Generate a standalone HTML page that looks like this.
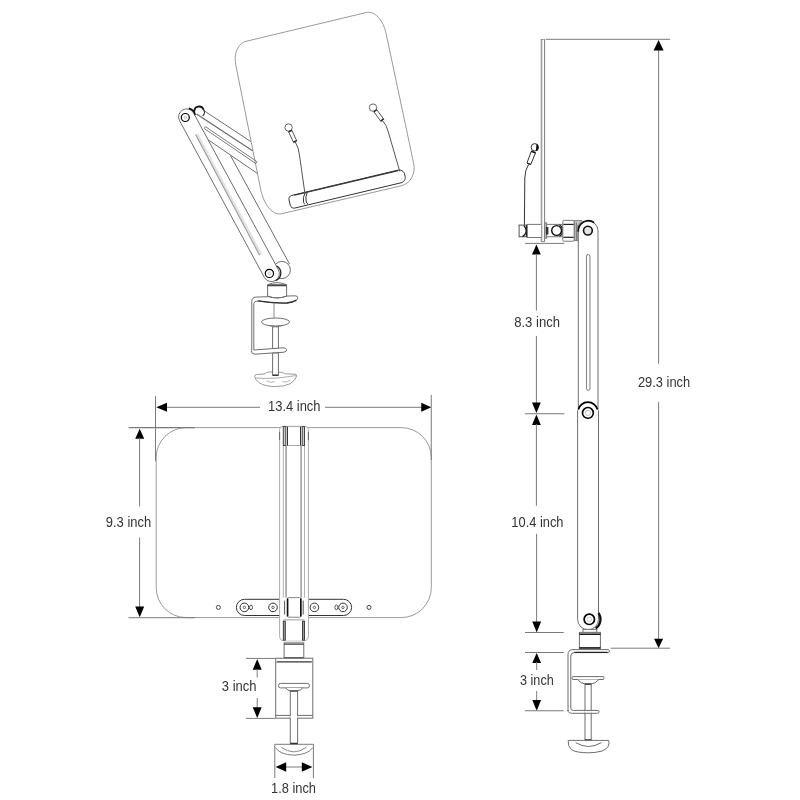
<!DOCTYPE html>
<html><head><meta charset="utf-8"><style>
html,body{margin:0;padding:0;background:#fff;width:800px;height:800px;overflow:hidden}
svg{display:block;font-family:"Liberation Sans",sans-serif;will-change:transform}
</style></head><body>
<svg width="800" height="800" viewBox="0 0 800 800">
<rect width="800" height="800" fill="#fff"/>
<path d="M246.34 41.24 L366.31 12.50 C374.48 10.54 383.21 19.89 386.15 33.75 L413.66 163.41 C415.87 173.82 410.32 183.70 401.04 185.86 L281.34 213.78 C272.89 215.75 263.75 204.79 260.56 188.86 L235.67 64.35 C233.48 53.37 238.17 43.20 246.34 41.24 Z" fill="#fff" stroke="#9a9a9a" stroke-width="1"/>
<path d="M294.67 208.08 L401.09 182.79 C403.98 182.10 405.78 179.17 405.09 176.28 L404.58 174.14 C403.90 171.25 400.97 169.45 398.08 170.14 L291.66 195.43 C289.74 195.89 288.53 197.84 288.99 199.77 L290.33 205.41 C290.79 207.34 292.74 208.54 294.67 208.08 Z" fill="#fff" stroke="#333" stroke-width="1"/>
<line x1="294.40" y1="195.20" x2="398.00" y2="170.60" stroke="#333" stroke-width="1.10"/>
<path d="M305 193.2 Q302.4 197.6 303.6 202.6 Q304.2 203.8 305.2 204.4" fill="none" stroke="#333" stroke-width="1"/>
<path d="M307.2 192.6 Q305 197.2 306.2 202 Q306.8 203.2 308 204" fill="none" stroke="#333" stroke-width="1"/>
<path d="M295.2 141.8 Q299 148 299.6 156 L305 194" fill="none" stroke="#555" stroke-width="1"/>
<circle cx="288.60" cy="127.50" r="3.7" fill="#fff" stroke="#666" stroke-width="1"/>
<polygon points="288.60,131.80 293.57,142.55 296.83,141.05 291.87,130.29" fill="#fff" stroke="#555" stroke-width="1"/>
<line x1="288.60" y1="131.80" x2="291.87" y2="130.29" stroke="#222" stroke-width="1.3"/>
<line x1="293.31" y1="142.01" x2="296.58" y2="140.50" stroke="#222" stroke-width="1.3"/>
<path d="M382.4 120.4 Q386.6 125 388 131 L399.8 171.5" fill="none" stroke="#555" stroke-width="1"/>
<circle cx="373.00" cy="107.60" r="3.7" fill="#fff" stroke="#666" stroke-width="1"/>
<polygon points="373.86,111.81 380.95,121.47 383.85,119.33 376.76,109.68" fill="#fff" stroke="#555" stroke-width="1"/>
<line x1="373.86" y1="111.81" x2="376.76" y2="109.68" stroke="#222" stroke-width="1.3"/>
<line x1="380.59" y1="120.98" x2="383.50" y2="118.85" stroke="#222" stroke-width="1.3"/>
<line x1="203.00" y1="110.00" x2="250.80" y2="141.60" stroke="#6e6e6e" stroke-width="1.00"/>
<line x1="196.50" y1="114.00" x2="252.60" y2="150.80" stroke="#6e6e6e" stroke-width="1.30"/>
<path d="M204.88 128.91 L255.18 163.11 A1.10 1.10 0 0 0 256.42 161.29 L206.12 127.09 A1.10 1.10 0 0 0 204.88 128.91 Z" fill="none" stroke="#6e6e6e" stroke-width="0.9"/>
<line x1="208.50" y1="140.00" x2="257.60" y2="173.60" stroke="#6e6e6e" stroke-width="1.00"/>
<path d="M194.4 111.6 A4.7 4.7 0 0 1 203.4 109.4" fill="none" stroke="#111" stroke-width="1.8"/>
<path d="M203.2 109 A4.7 4.7 0 0 1 202.6 116" fill="none" stroke="#333" stroke-width="1.1"/>
<line x1="230.50" y1="155.50" x2="289.50" y2="264.00" stroke="#6e6e6e" stroke-width="1.00"/>
<circle cx="281.8" cy="270" r="8.6" fill="#fff" stroke="#6e6e6e" stroke-width="1"/>
<path d="M179.56 120.71 L264.36 277.41 A8.00 8.00 0 0 0 278.44 269.79 L193.64 113.09 A8.00 8.00 0 0 0 179.56 120.71 Z" fill="#fff" stroke="#6e6e6e" stroke-width="1"/>
<line x1="197.00" y1="134.00" x2="261.00" y2="254.60" stroke="#e2e2e2" stroke-width="2.60"/>
<line x1="195.60" y1="134.60" x2="259.60" y2="255.20" stroke="#999" stroke-width="1.10"/>
<path d="M188.8 108.4 A8.6 8.6 0 0 1 195.2 115" fill="none" stroke="#111" stroke-width="1.6"/>
<circle cx="185.3" cy="117.5" r="4" fill="none" stroke="#000" stroke-width="1.2"/>
<circle cx="185.3" cy="117.5" r="1.2" fill="none" stroke="#999" stroke-width="0.6"/>
<circle cx="269.4" cy="273.4" r="4.1" fill="none" stroke="#000" stroke-width="1.2"/>
<circle cx="269.4" cy="273.4" r="1.5" fill="none" stroke="#aaa" stroke-width="0.6"/>
<path d="M276.6 266 A8 8 0 0 1 275.5 280.6" fill="none" stroke="#222" stroke-width="1.3"/>
<path d="M268 284.6 Q277 280.6 286.3 284.6" fill="#fff" stroke="#6e6e6e" stroke-width="1"/>
<path d="M251.75 352 L251.75 301.6 Q251.75 297.4 256 297.1 L295 295.8 Q298 295.9 297.9 297.8 Q297.6 299.8 295.8 300.5 Q292 302.6 286.75 303.1 Q272 303.4 257.9 301 Q254.2 301 253.8 303.4 L253.8 352" fill="#fff" stroke="#6e6e6e" stroke-width="1"/>
<path d="M257.9 300.9 Q272 303.3 286.75 303 Q292.6 302.5 296.4 300.1" fill="none" stroke="#333" stroke-width="1.3"/>
<path d="M267.6 284.6 L286.6 284.6 L286.6 296.2 Q277 299.6 267.6 296.2 Z" fill="#fff" stroke="#6e6e6e" stroke-width="1"/>
<line x1="267.60" y1="285.60" x2="286.60" y2="285.60" stroke="#444" stroke-width="1.30"/>
<path d="M267.6 296.2 Q277 299.6 286.6 296.2" fill="none" stroke="#6e6e6e" stroke-width="1"/>
<line x1="274.00" y1="302.60" x2="274.00" y2="318.00" stroke="#6e6e6e" stroke-width="0.80"/>
<ellipse cx="275.5" cy="322" rx="14" ry="4" fill="#fff" stroke="#6e6e6e" stroke-width="1"/>
<path d="M269 325.6 Q275.5 328 282 325.6" fill="none" stroke="#6e6e6e" stroke-width="0.9"/>
<rect x="272.6" y="326.8" width="5.8" height="49" fill="#fff" stroke="#6e6e6e" stroke-width="1"/>
<line x1="272.60" y1="348.80" x2="278.40" y2="348.80" stroke="#000" stroke-width="1.30"/>
<path d="M251.4 351 Q251.4 354.2 255 354.2 L284 352.2 Q287 351.6 286.6 349.6 Q286 347.8 283 347.8 L254 350" fill="#fff" stroke="#6e6e6e" stroke-width="1"/>
<line x1="272.60" y1="353.00" x2="278.40" y2="353.00" stroke="#6e6e6e" stroke-width="0.80"/>
<path d="M254.6 376.2 Q254.8 374.8 256.4 374.6 L265.4 373.8 Q266.6 372 268.4 372 L282.6 372.4 Q284.2 373.6 285.6 373.8 L295.2 374.2 Q296.8 374.6 296.6 376 Q296 380 290 383.8 Q284 386.6 275.4 386.6 Q265 386.4 259.6 383 Q254.4 379.4 254.6 376.2 Z" fill="#fff" stroke="#999" stroke-width="1"/>
<rect x="272.6" y="370" width="5.8" height="5.4" fill="#fff" stroke="none"/>
<line x1="272.60" y1="369.60" x2="272.60" y2="375.60" stroke="#6e6e6e" stroke-width="1.00"/>
<line x1="278.40" y1="369.60" x2="278.40" y2="375.60" stroke="#6e6e6e" stroke-width="1.00"/>
<line x1="272.60" y1="375.20" x2="278.40" y2="375.20" stroke="#222" stroke-width="1.40"/>
<path d="M255.2 377.8 Q262 378.8 269.5 378.3 Q277 378.4 285 377.1 Q291 376.2 296.2 375.6" fill="none" stroke="#aaa" stroke-width="1"/>
<path d="M266.4 380.8 Q270.6 383.4 274.6 381.6 M282.4 381.6 Q286 383.2 290.4 380.2" fill="none" stroke="#aaa" stroke-width="0.9"/>
<rect x="541.3" y="39.5" width="3.3" height="202" fill="#fff" stroke="#6e6e6e" stroke-width="1"/>
<line x1="546.00" y1="39.30" x2="670.00" y2="39.30" stroke="#7a7a7a" stroke-width="1.00"/>
<line x1="658.60" y1="50.00" x2="658.60" y2="363.80" stroke="#7a7a7a" stroke-width="1.00"/>
<line x1="658.60" y1="401.90" x2="658.60" y2="639.00" stroke="#7a7a7a" stroke-width="1.00"/>
<polygon points="658.60,40.00 653.60,50.50 663.60,50.50" fill="#000"/>
<polygon points="658.60,648.20 654.10,638.70 663.10,638.70" fill="#000"/>
<text x="637.90" y="387.25" font-size="14" fill="#333" textLength="52.35" lengthAdjust="spacingAndGlyphs">29.3 inch</text>
<line x1="610.70" y1="648.20" x2="670.00" y2="648.20" stroke="#7a7a7a" stroke-width="1.00"/>
<path d="M528.6 164.4 Q525 170 524.8 178 L524.4 225" fill="none" stroke="#333" stroke-width="1"/>
<polygon points="531.3,151.2 535.5,152.8 530.8,164.4 527,163" fill="#fff" stroke="#333" stroke-width="1"/>
<circle cx="534.8" cy="147.3" r="3.7" fill="#fff" stroke="#333" stroke-width="1"/>
<path d="M537 144.4 Q539.4 147.4 537 150.6 L536.4 150.6 Z" fill="#111" stroke="#111" stroke-width="1"/>
<line x1="531.20" y1="151.40" x2="535.60" y2="152.90" stroke="#111" stroke-width="1.50"/>
<line x1="527.20" y1="163.20" x2="530.80" y2="164.50" stroke="#222" stroke-width="1.20"/>
<rect x="527" y="224.4" width="14.6" height="13.1" fill="#fff" stroke="#777" stroke-width="1"/>
<rect x="519.1" y="225.1" width="7.9" height="11.65" fill="#fff" stroke="#555" stroke-width="1"/>
<path d="M523.8 225.6 Q527.2 229.6 526 232.4 Q525.2 235 522.6 236.6" fill="none" stroke="#111" stroke-width="1.3"/>
<line x1="526.40" y1="225.40" x2="526.40" y2="236.60" stroke="#222" stroke-width="1.20"/>
<rect x="541.9" y="39.6" width="2.6" height="202.3" fill="#fff" stroke="none"/>
<line x1="541.90" y1="39.60" x2="541.90" y2="241.90" stroke="#a8a8a8" stroke-width="1.00"/>
<line x1="544.50" y1="39.60" x2="544.50" y2="241.90" stroke="#888" stroke-width="1.00"/>
<line x1="541.90" y1="241.60" x2="544.50" y2="241.60" stroke="#888" stroke-width="1.00"/>
<rect x="546.6" y="224.4" width="16.4" height="12.35" fill="#fff" stroke="#777" stroke-width="1"/>
<rect x="545" y="222.9" width="1.6" height="15.35" fill="#fff" stroke="#777" stroke-width="1"/>
<rect x="545.8" y="227" width="2.6" height="7.5" fill="#333"/>
<circle cx="556.6" cy="230.5" r="4.9" fill="#fff" stroke="#111" stroke-width="1.4"/>
<path d="M559.4 224.8 A6.6 6.6 0 0 1 559.4 236.3" fill="none" stroke="#222" stroke-width="1.3"/>
<rect x="562.8" y="220.4" width="11.5" height="20.85" rx="1.4" fill="#fff" stroke="#777" stroke-width="1"/>
<line x1="563.40" y1="224.40" x2="573.80" y2="224.40" stroke="#222" stroke-width="1.20"/>
<line x1="563.40" y1="237.30" x2="573.80" y2="237.30" stroke="#222" stroke-width="1.20"/>
<path d="M574.3 220.6 L582 220.6 L578 224.8 L578 240.6 L574.3 240.6 Z" fill="#ccc" stroke="#666" stroke-width="0.8"/>
<line x1="576.30" y1="222.40" x2="576.30" y2="240.40" stroke="#555" stroke-width="0.80"/>
<path d="M578.3 409 L578.3 230.8 A9.85 9.85 0 0 1 598 230.8 L598 409" fill="#fff" stroke="#6e6e6e" stroke-width="1"/>
<path d="M577.6 410.4 L577.6 619.3 A10.45 10.45 0 0 0 598.5 619.3 L598.5 410.4" fill="#fff" stroke="#6e6e6e" stroke-width="1"/>
<path d="M586.55 256.20 L586.55 388.60 A1.70 1.70 0 0 0 589.95 388.60 L589.95 256.20 A1.70 1.70 0 0 0 586.55 256.20 Z" fill="#fff" stroke="#6e6e6e" stroke-width="0.9"/>
<circle cx="587.9" cy="230.6" r="4.4" fill="#e4e4e4" stroke="#111" stroke-width="1.6"/>
<path d="M578.3 231.6 A10.1 10.1 0 0 1 594.2 222.6" fill="none" stroke="#111" stroke-width="1.7"/>
<path d="M578.3 409.6 A9.9 9.9 0 0 1 597.5 409.6" fill="none" stroke="#000" stroke-width="1.7"/>
<circle cx="587.9" cy="412.9" r="5.4" fill="#fff" stroke="#000" stroke-width="1.6"/>
<circle cx="588" cy="412.9" r="2.6" fill="none" stroke="#bbb" stroke-width="0.8"/>
<path d="M598.5 612.9 A11.2 11.2 0 0 1 595.7 628.5" fill="none" stroke="#111" stroke-width="2.2"/>
<circle cx="589.3" cy="619.3" r="5.2" fill="#fff" stroke="#000" stroke-width="1.7"/>
<circle cx="589.3" cy="619.3" r="2.2" fill="none" stroke="#bbb" stroke-width="0.8"/>
<rect x="583" y="629.4" width="13.8" height="3" fill="#fff" stroke="#6e6e6e" stroke-width="1"/>
<rect x="579.4" y="632.4" width="21" height="16.6" fill="#fff" stroke="#6e6e6e" stroke-width="1"/>
<line x1="579.40" y1="634.20" x2="600.40" y2="634.20" stroke="#000" stroke-width="1.40"/>
<line x1="579.40" y1="647.90" x2="600.40" y2="647.90" stroke="#000" stroke-width="1.40"/>
<path d="M568 711 L568 654.6 Q568 649.6 573 649.6 L608.2 649.6 Q609.6 649.8 609.4 651.2 Q609.2 652.6 607.8 652.6 L574.4 652.6 Q570.8 652.6 570.8 656 L570.8 708 Q570.8 710.4 573.2 710.4 L598 710.4 Q599.2 710.6 599.1 711.8 Q599 713.2 597.6 713.3 L572.4 713.3 Q568 713.3 568 710 Z" fill="#fff" stroke="#6e6e6e" stroke-width="1"/>
<line x1="574.40" y1="652.40" x2="607.60" y2="652.40" stroke="#222" stroke-width="1.30"/>
<rect x="572.2" y="676.6" width="31.7" height="2.9" rx="0.8" fill="#fff" stroke="#6e6e6e" stroke-width="1"/>
<path d="M577.6 679.5 Q581 683.8 585 683.8 L591.2 683.8 Q595.4 683.8 598.8 679.5" fill="#fff" stroke="#6e6e6e" stroke-width="1"/>
<rect x="585" y="683.8" width="6.2" height="56.6" fill="#fff" stroke="#6e6e6e" stroke-width="1"/>
<line x1="585.00" y1="684.20" x2="591.20" y2="684.20" stroke="#333" stroke-width="1.20"/>
<line x1="585.00" y1="740.00" x2="591.20" y2="740.00" stroke="#111" stroke-width="1.30"/>
<rect x="584.4" y="710.9" width="7.4" height="1.9" fill="#fff"/>
<line x1="584.40" y1="710.40" x2="591.80" y2="710.40" stroke="#6e6e6e" stroke-width="1.00"/>
<line x1="584.40" y1="713.30" x2="591.80" y2="713.30" stroke="#6e6e6e" stroke-width="1.00"/>
<path d="M568.2 740.4 L608.8 740.4 Q610.4 748 602 751 Q596 752.8 588.5 752.8 Q576 752.8 571.4 749.6 Q567.4 746 568.2 740.4 Z" fill="#fff" stroke="#6e6e6e" stroke-width="1"/>
<path d="M575.6 742.6 Q588.5 750.4 601.4 742.6" fill="none" stroke="#6e6e6e" stroke-width="1"/>
<line x1="525.00" y1="243.40" x2="564.40" y2="243.40" stroke="#7a7a7a" stroke-width="1.00"/>
<polygon points="536.40,244.40 532.00,254.40 540.80,254.40" fill="#000"/>
<line x1="536.40" y1="254.00" x2="536.40" y2="310.50" stroke="#7a7a7a" stroke-width="1.00"/>
<text x="514.15" y="326.80" font-size="14" fill="#333" textLength="45.85" lengthAdjust="spacingAndGlyphs">8.3 inch</text>
<line x1="536.40" y1="335.90" x2="536.40" y2="403.00" stroke="#7a7a7a" stroke-width="1.00"/>
<polygon points="536.40,412.90 532.00,402.40 540.80,402.40" fill="#000"/>
<line x1="525.00" y1="413.75" x2="564.40" y2="413.75" stroke="#7a7a7a" stroke-width="1.00"/>
<polygon points="536.40,414.60 532.00,425.10 540.80,425.10" fill="#000"/>
<line x1="536.40" y1="424.00" x2="536.40" y2="505.80" stroke="#7a7a7a" stroke-width="1.00"/>
<text x="511.35" y="527.10" font-size="14" fill="#333" textLength="52.15" lengthAdjust="spacingAndGlyphs">10.4 inch</text>
<line x1="536.60" y1="533.80" x2="536.60" y2="622.00" stroke="#7a7a7a" stroke-width="1.00"/>
<polygon points="536.70,632.50 532.30,621.50 541.10,621.50" fill="#000"/>
<line x1="525.00" y1="632.50" x2="563.75" y2="632.50" stroke="#7a7a7a" stroke-width="1.00"/>
<line x1="525.00" y1="652.50" x2="563.75" y2="652.50" stroke="#7a7a7a" stroke-width="1.00"/>
<polygon points="536.70,653.00 532.30,663.00 541.10,663.00" fill="#000"/>
<line x1="536.70" y1="662.00" x2="536.70" y2="670.00" stroke="#7a7a7a" stroke-width="1.00"/>
<text x="520.00" y="685.00" font-size="14" fill="#333" textLength="33.75" lengthAdjust="spacingAndGlyphs">3 inch</text>
<line x1="536.70" y1="691.00" x2="536.70" y2="701.00" stroke="#7a7a7a" stroke-width="1.00"/>
<polygon points="536.70,710.75 532.30,700.00 541.10,700.00" fill="#000"/>
<line x1="525.00" y1="710.75" x2="563.75" y2="710.75" stroke="#7a7a7a" stroke-width="1.00"/>
<rect x="156.2" y="427.6" width="275.1" height="190" rx="30" ry="30" fill="#fff" stroke="#9a9a9a" stroke-width="1"/>
<line x1="128.75" y1="427.60" x2="195.00" y2="427.60" stroke="#7a7a7a" stroke-width="1.20"/>
<line x1="128.50" y1="617.70" x2="195.00" y2="617.70" stroke="#7a7a7a" stroke-width="1.00"/>
<line x1="155.50" y1="396.20" x2="155.50" y2="461.20" stroke="#7a7a7a" stroke-width="1.00"/>
<line x1="431.25" y1="395.00" x2="431.25" y2="460.00" stroke="#7a7a7a" stroke-width="1.00"/>
<line x1="166.00" y1="407.30" x2="260.00" y2="407.30" stroke="#7a7a7a" stroke-width="1.00"/>
<polygon points="156.25,407.30 167.00,402.80 167.00,411.80" fill="#000"/>
<text x="268.00" y="411.25" font-size="14" fill="#333" textLength="52.50" lengthAdjust="spacingAndGlyphs">13.4 inch</text>
<line x1="325.00" y1="407.30" x2="422.00" y2="407.30" stroke="#7a7a7a" stroke-width="1.00"/>
<polygon points="431.25,407.30 421.25,402.80 421.25,411.80" fill="#000"/>
<polygon points="139.70,428.75 135.20,438.75 144.20,438.75" fill="#000"/>
<line x1="139.60" y1="438.00" x2="139.60" y2="506.50" stroke="#7a7a7a" stroke-width="1.00"/>
<text x="105.80" y="527.30" font-size="14" fill="#333" textLength="45.40" lengthAdjust="spacingAndGlyphs">9.3 inch</text>
<line x1="139.60" y1="537.50" x2="139.60" y2="607.00" stroke="#7a7a7a" stroke-width="1.00"/>
<polygon points="139.70,617.20 135.20,606.50 144.20,606.50" fill="#000"/>
<path d="M244.50 615.50 L343.50 615.50 A8.10 8.10 0 0 0 343.50 599.30 L244.50 599.30 A8.10 8.10 0 0 0 244.50 615.50 Z" fill="#fff" stroke="#333" stroke-width="1"/>
<circle cx="218.40" cy="607.4" r="2" fill="none" stroke="#444" stroke-width="1"/>
<circle cx="369.00" cy="607.4" r="2" fill="none" stroke="#444" stroke-width="1"/>
<circle cx="244.40" cy="607.4" r="4.3" fill="none" stroke="#333" stroke-width="1"/>
<circle cx="244.40" cy="607.4" r="1.2" fill="none" stroke="#555" stroke-width="0.9"/>
<circle cx="273.00" cy="607.4" r="4.3" fill="none" stroke="#333" stroke-width="1"/>
<circle cx="273.00" cy="607.4" r="1.2" fill="none" stroke="#555" stroke-width="0.9"/>
<circle cx="314.40" cy="607.4" r="4.3" fill="none" stroke="#333" stroke-width="1"/>
<circle cx="314.40" cy="607.4" r="1.2" fill="none" stroke="#555" stroke-width="0.9"/>
<circle cx="343.00" cy="607.4" r="4.3" fill="none" stroke="#333" stroke-width="1"/>
<circle cx="343.00" cy="607.4" r="1.2" fill="none" stroke="#555" stroke-width="0.9"/>
<ellipse cx="251.00" cy="607.4" rx="1.5" ry="2.3" fill="none" stroke="#444" stroke-width="0.9"/>
<ellipse cx="336.40" cy="607.4" rx="1.5" ry="2.3" fill="none" stroke="#444" stroke-width="0.9"/>
<path d="M279.6 429.6 Q279.6 426.3 283 426.3 L305 426.3 Q308.4 426.3 308.4 429.6 L308.4 635.6 Q308.4 640.8 303.6 640.8 L284.4 640.8 Q279.6 640.8 279.6 635.6 Z" fill="#fff" stroke="#aaa" stroke-width="1"/>
<line x1="279.60" y1="432.00" x2="279.60" y2="440.00" stroke="#666" stroke-width="1.00"/>
<line x1="308.40" y1="432.00" x2="308.40" y2="440.00" stroke="#666" stroke-width="1.00"/>
<line x1="283.30" y1="445.50" x2="283.30" y2="597.60" stroke="#b0b0b0" stroke-width="1.00"/>
<line x1="286.10" y1="445.50" x2="286.10" y2="597.60" stroke="#999" stroke-width="1.50"/>
<line x1="301.10" y1="445.50" x2="301.10" y2="597.60" stroke="#999" stroke-width="1.50"/>
<line x1="304.50" y1="445.50" x2="304.50" y2="597.60" stroke="#b0b0b0" stroke-width="1.00"/>
<rect x="283.3" y="426.6" width="2.5" height="18.9" fill="#ccc" stroke="#444" stroke-width="1"/>
<rect x="302.2" y="426.6" width="2.3" height="18.9" fill="#ccc" stroke="#444" stroke-width="1"/>
<rect x="287.5" y="426.6" width="13" height="18.9" fill="#fff" stroke="#aaa" stroke-width="1"/>
<line x1="287.50" y1="426.60" x2="287.50" y2="445.50" stroke="#333" stroke-width="1.00"/>
<line x1="300.50" y1="426.60" x2="300.50" y2="445.50" stroke="#333" stroke-width="1.00"/>
<rect x="283.3" y="620.6" width="21.2" height="20" fill="#fff" stroke="none"/>
<line x1="283.30" y1="619.80" x2="304.50" y2="619.80" stroke="#bbb" stroke-width="1.40"/>
<rect x="283.3" y="621.2" width="2" height="19" fill="#999" stroke="#333" stroke-width="0.9"/>
<rect x="302.5" y="621.2" width="2" height="19" fill="#999" stroke="#333" stroke-width="0.9"/>
<line x1="284.60" y1="600.60" x2="284.60" y2="614.60" stroke="#555" stroke-width="1.00"/>
<line x1="303.20" y1="600.60" x2="303.20" y2="614.60" stroke="#555" stroke-width="1.00"/>
<rect x="287.4" y="597.6" width="13.6" height="19.6" rx="1.2" fill="#fff" stroke="#888" stroke-width="1"/>
<line x1="287.60" y1="598.40" x2="287.60" y2="616.40" stroke="#111" stroke-width="1.60"/>
<line x1="300.80" y1="598.40" x2="300.80" y2="616.40" stroke="#111" stroke-width="1.60"/>
<rect x="284.1" y="642.9" width="19.7" height="15.1" fill="#fff" stroke="#6e6e6e" stroke-width="1"/>
<line x1="284.10" y1="644.20" x2="303.80" y2="644.20" stroke="#444" stroke-width="1.20"/>
<line x1="284.10" y1="657.60" x2="303.80" y2="657.60" stroke="#555" stroke-width="1.00"/>
<rect x="275.7" y="658.2" width="37.1" height="60" fill="none" stroke="#6e6e6e" stroke-width="1"/>
<line x1="276.60" y1="661.80" x2="311.80" y2="661.80" stroke="#333" stroke-width="1.30"/>
<line x1="275.70" y1="715.40" x2="312.80" y2="715.40" stroke="#6e6e6e" stroke-width="1.00"/>
<rect x="278.5" y="683.4" width="30.9" height="4.5" rx="2" fill="#fff" stroke="#6e6e6e" stroke-width="1"/>
<path d="M285.8 687.9 Q287.6 690.7 290.3 690.7 L297.6 690.7 Q300.4 690.7 302.6 687.9" fill="#fff" stroke="#6e6e6e" stroke-width="1"/>
<rect x="290.3" y="690.7" width="7.3" height="53.4" fill="#fff" stroke="#6e6e6e" stroke-width="1"/>
<line x1="290.30" y1="691.20" x2="297.60" y2="691.20" stroke="#444" stroke-width="1.10"/>
<line x1="290.30" y1="716.80" x2="297.60" y2="716.80" stroke="#fff" stroke-width="2.20"/>
<line x1="290.30" y1="743.40" x2="297.60" y2="743.40" stroke="#222" stroke-width="1.30"/>
<line x1="274.80" y1="744.30" x2="313.40" y2="744.30" stroke="#7a7a7a" stroke-width="1.00"/>
<path d="M275.4 747.6 Q280 754.6 294 755.2 Q308 754.6 312.8 747.6" fill="none" stroke="#7a7a7a" stroke-width="1"/>
<path d="M281.2 747.2 Q294 756.6 306.4 747.2" fill="none" stroke="#7a7a7a" stroke-width="0.9"/>
<line x1="246.00" y1="658.40" x2="275.00" y2="658.40" stroke="#7a7a7a" stroke-width="1.00"/>
<line x1="246.00" y1="718.40" x2="275.00" y2="718.40" stroke="#7a7a7a" stroke-width="1.00"/>
<polygon points="257.20,659.00 252.70,669.80 261.70,669.80" fill="#000"/>
<line x1="257.20" y1="669.00" x2="257.20" y2="677.50" stroke="#7a7a7a" stroke-width="1.00"/>
<text x="221.80" y="691.00" font-size="14" fill="#333" textLength="34.70" lengthAdjust="spacingAndGlyphs">3 inch</text>
<line x1="257.20" y1="698.00" x2="257.20" y2="708.00" stroke="#7a7a7a" stroke-width="1.00"/>
<polygon points="257.20,718.00 252.70,707.20 261.70,707.20" fill="#000"/>
<line x1="274.80" y1="744.30" x2="274.80" y2="778.00" stroke="#7a7a7a" stroke-width="1.00"/>
<line x1="313.40" y1="744.30" x2="313.40" y2="778.00" stroke="#7a7a7a" stroke-width="1.00"/>
<line x1="285.00" y1="767.00" x2="303.00" y2="767.00" stroke="#7a7a7a" stroke-width="1.00"/>
<polygon points="275.60,767.00 286.20,762.20 286.20,771.80" fill="#000"/>
<polygon points="312.40,767.00 301.80,762.20 301.80,771.80" fill="#000"/>
<text x="271.00" y="792.80" font-size="14" fill="#333" textLength="45.00" lengthAdjust="spacingAndGlyphs">1.8 inch</text>
</svg></body></html>
